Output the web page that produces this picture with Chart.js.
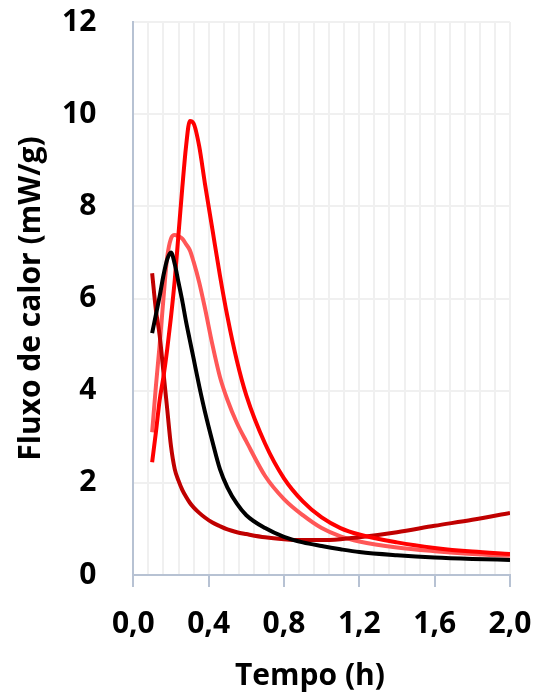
<!DOCTYPE html>
<html>
<head>
<meta charset="utf-8">
<script src="https://cdn.jsdelivr.net/npm/chart.js@4.4.1/dist/chart.umd.min.js"></script>
<style>
  html, body { margin: 0; padding: 0; background: #fff; }
  #wrap { width: 538px; height: 697px; }
</style>
</head>
<body>
<div id="wrap"><canvas id="fluxoChart"></canvas></div>
<script>
// tempo (h) shared by every curve
const tempo = [0.1, 0.12, 0.14, 0.16, 0.18, 0.2, 0.22, 0.24, 0.26, 0.28, 0.3, 0.32, 0.35, 0.38,
    0.42, 0.46, 0.5, 0.55, 0.6, 0.7, 0.8, 0.9, 1.0, 1.1, 1.2, 1.4, 1.6, 1.8, 2.0];

// heat flow (mW/g) for each sample
const fluxoPreto = [5.25, 5.65, 6.05, 6.5, 6.85, 7.0, 6.75, 6.35, 5.95, 5.5, 5.1, 4.7, 4.1, 3.55,
    2.9, 2.3, 1.9, 1.55, 1.3, 1.02, 0.83, 0.71, 0.63, 0.56, 0.5, 0.43, 0.38, 0.35, 0.33];
const fluxoVermelho = [2.45, 3.1, 3.8, 4.3, 4.9, 5.6, 6.4, 7.4, 8.4, 9.3, 9.85, 9.8, 9.3, 8.5,
    7.5, 6.5, 5.6, 4.65, 3.9, 2.85, 2.1, 1.6, 1.25, 1.02, 0.88, 0.71, 0.59, 0.51, 0.46];
const fluxoRosa = [3.1, 4.1, 5.0, 6.0, 6.9, 7.3, 7.38, 7.35, 7.3, 7.18, 7.05, 6.8, 6.35, 5.8,
    5.0, 4.3, 3.8, 3.3, 2.9, 2.15, 1.65, 1.3, 1.02, 0.84, 0.73, 0.6, 0.52, 0.46, 0.42];
const fluxoEscuro = [6.55, 5.75, 5.2, 4.4, 3.6, 2.8, 2.3, 2.05, 1.85, 1.7, 1.57, 1.47, 1.35, 1.25,
    1.14, 1.06, 0.99, 0.93, 0.89, 0.82, 0.78, 0.76, 0.76, 0.78, 0.82, 0.93, 1.07, 1.2, 1.35];

const eixoCor = '#b7c2d3';
const gradeCor = '#f0f0f0';

function serie(valores, cor) {
    return {
        data: valores.map((v, i) => ({ x: tempo[i], y: v })),
        borderColor: cor,
        borderWidth: 4,
        pointRadius: 0,
        fill: false,
        cubicInterpolationMode: 'monotone'
    };
}

// only every fifth vertical line (0.4 h) gets a label and a tick mark
function ehMaior(v) {
    let k = v / 0.4;
    return Math.abs(k - Math.round(k)) < 1e-6;
}

const fonte = { family: 'Open Sans', weight: 'bold', size: 30 };

new Chart(document.getElementById('fluxoChart'), {
    type: 'line',
    data: {
        datasets: [
            serie(fluxoPreto, '#000000'),
            serie(fluxoVermelho, '#ff0000'),
            serie(fluxoEscuro, '#c00000'),
            serie(fluxoRosa, '#ff5757')
        ]
    },
    options: {
        responsive: true,
        maintainAspectRatio: false,
        animation: false,
        layout: { padding: { left: 13, right: 28, top: 0, bottom: 0 } },
        plugins: {
            legend: { display: false },
            tooltip: { enabled: false }
        },
        scales: {
            x: {
                type: 'linear',
                min: 0,
                max: 2,
                border: { color: eixoCor, width: 2 },
                grid: {
                    color: gradeCor,
                    lineWidth: 2,
                    tickLength: 12,
                    tickColor: (ctx) => ehMaior(ctx.tick.value) ? eixoCor : 'rgba(0,0,0,0)',
                    tickWidth: 2
                },
                ticks: {
                    stepSize: 0.08,
                    maxTicksLimit: 30,
                    autoSkip: false,
                    maxRotation: 0,
                    padding: 5,
                    color: '#000',
                    // tall line box pushes the labels down without widening the right margin
                    font: { family: 'Open Sans', weight: 'bold', size: 30, lineHeight: 2.13 },
                    callback: (v) => ehMaior(v) ? v.toFixed(1).replace('.', ',') : ''
                },
                title: {
                    display: true,
                    text: 'Tempo (h)   ',
                    color: '#000',
                    font: { family: 'Open Sans', weight: 'bold', size: 30, lineHeight: 1.0 },
                    padding: { top: 0, bottom: 6 }
                }
            },
            y: {
                min: 0,
                max: 12,
                border: { color: eixoCor, width: 2 },
                grid: {
                    color: gradeCor,
                    lineWidth: 2,
                    drawTicks: true,
                    tickLength: 33,
                    tickColor: 'rgba(0,0,0,0)'
                },
                ticks: {
                    stepSize: 2,
                    padding: 4,
                    color: '#000',
                    font: fonte
                },
                title: {
                    display: true,
                    text: 'Fluxo de calor (mW/g)',
                    color: '#000',
                    font: fonte,
                    padding: { top: 0, bottom: 9 }
                }
            }
        }
    }
});
</script>
</body>
</html>
